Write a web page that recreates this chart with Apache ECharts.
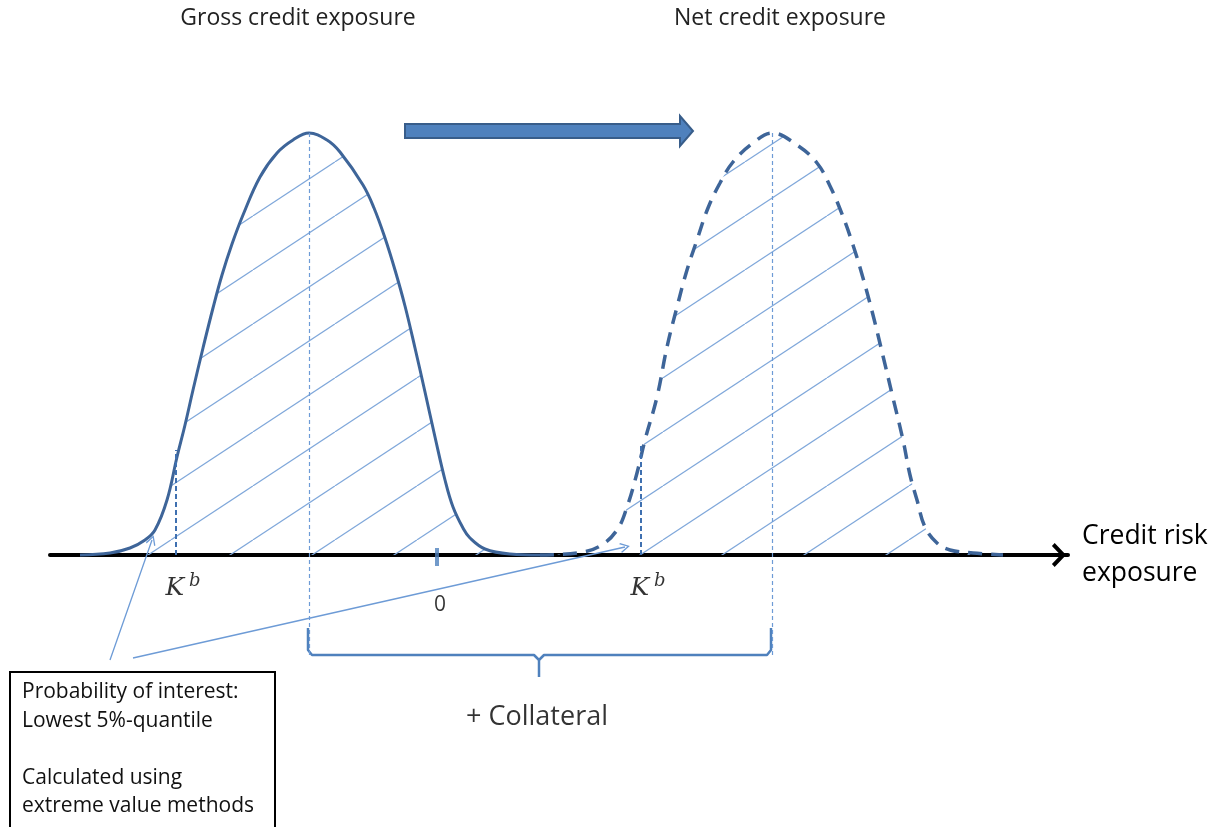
<!DOCTYPE html>
<html><head><meta charset="utf-8">
<script src="https://cdn.jsdelivr.net/npm/echarts@6/dist/echarts.min.js"></script>
<style>html,body{margin:0;padding:0;background:#fff}#c{width:1219px;height:827px}</style>
</head><body><div id="c"></div>
<script>
// Gross credit exposure density (x = exposure units, y = density units)
const grossX = [-3.57,-3.27,-3.07,-2.92,-2.82,-2.70,-2.60,-2.52,-2.44,-2.34,-2.24,-2.15,-2.05,-1.94,-1.77,-1.60,-1.44,-1.28,-1.10,-0.97,-0.74,-0.63,-0.52,-0.42,-0.32,-0.22,-0.12,-0.02,0.08,0.16,0.26,0.33,0.48,0.73,1.03];
const grossY = [0,0.02,0.07,0.15,0.25,0.55,0.98,1.30,1.65,2.07,2.47,2.80,3.11,3.40,3.78,4.02,4.15,4.22,4.15,4.03,3.70,3.47,3.17,2.85,2.49,2.07,1.63,1.18,0.75,0.48,0.27,0.17,0.06,0.01,0];
// Net credit exposure density (after collateral)
const netX = [1.03,1.40,1.63,1.80,1.90,2.00,2.08,2.20,2.30,2.40,2.50,2.60,2.71,2.83,2.96,3.16,3.35,3.60,3.80,3.93,4.05,4.16,4.26,4.36,4.46,4.56,4.66,4.73,4.80,4.88,5.00,5.13,5.36,5.66];
const netY = [0,0.02,0.09,0.25,0.48,0.82,1.15,1.58,2.08,2.48,2.85,3.15,3.47,3.72,3.93,4.12,4.22,4.10,3.92,3.69,3.41,3.10,2.77,2.40,1.99,1.57,1.15,0.80,0.55,0.28,0.12,0.05,0.02,0];
const peakHeight = 4.22;
const means = [-1.28, 3.35];           // gross mean, net mean
const quantiles = [-2.61, 2.04];       // K^b for gross and net
const quantileHeights = [1.05, 1.12];
const zeroTick = 0;
const titles = ['Gross credit exposure', 'Net credit exposure'];
const boxText = ['Probability of interest:', 'Lowest 5%-quantile', '', 'Calculated using', 'extreme value methods'];

const FONT = '"Open Sans"';
function hatch(){
  const w = 82, h = 54, c = document.createElement('canvas');
  c.width = w; c.height = h;
  const g = c.getContext('2d');
  g.strokeStyle = '#7fa7da'; g.lineWidth = 1.2;
  const phase = 0.083;
  [phase - 1, phase, phase + 1, phase + 2].forEach(function (k) {
    g.beginPath(); g.moveTo(k * w, 0); g.lineTo((k - 1) * w, h); g.stroke();
  });
  return c;
}
const pattern = { image: hatch(), repeat: 'repeat' };
const chevronUp = 'path://M10,0 L20,9.5 L17.6,11.8 L10,4.6 L2.4,11.8 L0,9.5 Z';
const thinArrow = 'path://M5,0 L10,9 L9,10 L5,2.6 L1,10 L0,9 Z';
const pairs = (xs, ys) => xs.map((x, i) => [x, ys[i]]);

const chart = echarts.init(document.getElementById('c'));
chart.setOption({
  animation: false,
  grid: { left: 50, right: 151, top: 55, bottom: 0, outerBoundsMode: 'none', containLabel: false },
  xAxis: {
    type: 'value', min: -3.87, max: 6.31,
    axisLine: { show: true, onZero: true, lineStyle: { color: '#000', width: 4 },
      symbol: ['none', chevronUp], symbolSize: [24, 20], symbolOffset: [0, -9] },
    axisTick: { show: false }, axisLabel: { show: false }, splitLine: { show: false },
    name: 'Credit risk\nexposure', nameLocation: 'end', nameGap: 14,
    nameTextStyle: { fontFamily: FONT, fontSize: 26.5, color: '#000', align: 'left', lineHeight: 37, padding: [12, 0, 0, 0] }
  },
  yAxis: { type: 'value', min: -2.72, max: 5, show: false },
  series: [
    { type: 'line', name: 'gross', data: pairs(grossX, grossY), smooth: 0.4, showSymbol: false, z: 3,
      lineStyle: { color: '#3e6599', width: 3 }, areaStyle: { color: pattern, opacity: 1 },
      markLine: { silent: true, symbol: 'none', label: { show: false },
        data: [
          [{ coord: [means[0], peakHeight], lineStyle: { color: '#6d9bd6', width: 1.2, type: [4, 3] } }, { coord: [means[0], -1.0] }],
          [{ coord: [means[1], peakHeight], lineStyle: { color: '#6d9bd6', width: 1.2, type: [4, 3] } }, { coord: [means[1], -1.0] }],
          [{ coord: [quantiles[0], 0], lineStyle: { color: '#3f70b0', width: 2, type: [5, 3] } }, { coord: [quantiles[0], quantileHeights[0]] }],
          [{ coord: [quantiles[1], 0], lineStyle: { color: '#3f70b0', width: 2, type: [5, 3] } }, { coord: [quantiles[1], quantileHeights[1]] }]
        ] } },
    { type: 'line', name: 'net', data: pairs(netX, netY), smooth: 0.4, showSymbol: false, z: 3,
      lineStyle: { color: '#3e6599', width: 3.5, type: [14, 9] }, areaStyle: { color: pattern, opacity: 1 },
      markLine: { silent: true, symbol: ['none', thinArrow], symbolSize: [10, 10], label: { show: false },
        lineStyle: { color: '#6d9bd6', width: 1.3, type: 'solid' },
        data: [
          [{ coord: [-3.27, -1.05] }, { coord: [-2.85, 0.15] }],
          [{ coord: [-3.04, -1.03] }, { coord: [1.88, 0.08] }]
        ] } },
    { type: 'line', name: 'collateral brace', showSymbol: false, z: 4,
      lineStyle: { color: '#4f81bd', width: 2.5 },
      data: [[-1.29,-0.73],[-1.29,-0.95],[-1.25,-1.0],[0.97,-1.0],[1.02,-1.05],[1.02,-1.22],[1.02,-1.05],[1.07,-1.0],[3.30,-1.0],[3.34,-0.95],[3.34,-0.73]] },
    { type: 'scatter', name: 'zero tick', symbol: 'rect', symbolSize: [4, 18], z: 5,
      itemStyle: { color: '#4f81bd' }, data: [[zeroTick, -0.02]] },
    { type: 'scatter', name: 'labels', symbolSize: 1, z: 6, itemStyle: { color: 'rgba(0,0,0,0)' },
      label: { show: true, position: 'inside', color: '#000', fontFamily: FONT,
        formatter: p => p.name,
        rich: {
          k: { fontFamily: 'DejaVu Serif', fontStyle: 'italic', fontSize: 25, color: '#000' },
          b: { fontFamily: 'DejaVu Serif', fontStyle: 'italic', fontSize: 18, color: '#000', padding: [0, 0, 14, 5] }
        } },
      data: [
        { name: '{k|K}{b|b}', value: [quantiles[0] + 0.07, -0.33] },
        { name: '{k|K}{b|b}', value: [quantiles[1] + 0.07, -0.33] },
        { name: '0', value: [zeroTick + 0.03, -0.5], label: { fontSize: 21 } },
        { name: '+ Collateral', value: [1.0, -1.62], label: { fontSize: 27 } }
      ] }
  ],
  graphic: [
    { type: 'text', x: 298, y: 18, style: { text: titles[0], font: '23px ' + FONT, fill: '#222', textAlign: 'center', textVerticalAlign: 'middle' } },
    { type: 'text', x: 780, y: 18, style: { text: titles[1], font: '23px ' + FONT, fill: '#222', textAlign: 'center', textVerticalAlign: 'middle' } },
    { type: 'polygon', shape: { points: [[405,124],[680,124],[680,116],[693,131],[680,146],[680,138],[405,138]] },
      style: { fill: '#4f81bd', stroke: '#385d8a', lineWidth: 2 } },
    { type: 'rect', shape: { x: 10, y: 672, width: 265, height: 175 }, style: { fill: '#fff', stroke: '#000', lineWidth: 2 }, z: 10 },
    { type: 'text', x: 22, y: 678, z: 11, style: { text: boxText.join('\n'), font: '21px ' + FONT, fill: '#111', lineHeight: 28.5 } }
  ]
});
</script></body></html>
